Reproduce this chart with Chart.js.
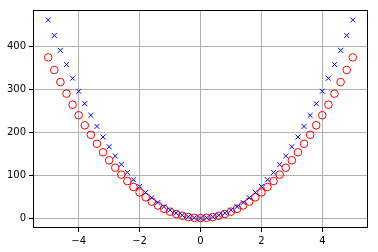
<!DOCTYPE html>
<html>
<head>
<meta charset="utf-8">
<script src="https://cdn.jsdelivr.net/npm/chart.js@4/dist/chart.umd.min.js"></script>
<style>
  html, body { margin: 0; padding: 0; background: #fff; }
</style>
</head>
<body>
<canvas id="chart" width="378" height="252"></canvas>
<script>
// x positions of the samples (-5 to 5, step 0.2)
const xValues = [-5, -4.8, -4.6, -4.4, -4.2, -4, -3.8, -3.6, -3.4, -3.2, -3, -2.8, -2.6, -2.4, -2.2, -2,
    -1.8, -1.6, -1.4, -1.2, -1, -0.8, -0.6, -0.4, -0.2, 0, 0.2, 0.4, 0.6, 0.8, 1, 1.2, 1.4, 1.6, 1.8, 2,
    2.2, 2.4, 2.6, 2.8, 3, 3.2, 3.4, 3.6, 3.8, 4, 4.2, 4.4, 4.6, 4.8, 5];

// red hollow circles
const circleValues = [375, 345.6, 317.4, 290.4, 264.6, 240, 216.6, 194.4, 173.4, 153.6, 135, 117.6, 101.4, 86.4, 72.6, 60,
    48.6, 38.4, 29.4, 21.6, 15, 9.6, 5.4, 2.4, 0.6, 0, 0.6, 2.4, 5.4, 9.6, 15, 21.6, 29.4, 38.4, 48.6, 60,
    72.6, 86.4, 101.4, 117.6, 135, 153.6, 173.4, 194.4, 216.6, 240, 264.6, 290.4, 317.4, 345.6, 375];

// blue x markers
const crossValues = [462.5, 426.2, 391.5, 358.2, 326.3, 296, 267.1, 239.8, 213.9, 189.4, 166.5, 145, 125.1, 106.6, 89.5, 74,
    59.9, 47.4, 36.3, 26.6, 18.5, 11.8, 6.7, 3, 0.7, 0, 0.7, 3, 6.7, 11.8, 18.5, 26.6, 36.3, 47.4, 59.9, 74,
    89.5, 106.6, 125.1, 145, 166.5, 189.4, 213.9, 239.8, 267.1, 296, 326.3, 358.2, 391.5, 426.2, 462.5];

const xTicks = [-4, -2, 0, 2, 4];
const yTicks = [0, 100, 200, 300, 400];

const toPoints = ys => xValues.map((x, i) => ({ x: x, y: ys[i] }));

// box round the plot area, like the matplotlib spines
const frame = {
    id: 'frame',
    afterDraw(chart) {
        const a = chart.chartArea;
        const ctx = chart.ctx;
        ctx.save();
        ctx.strokeStyle = '#000';
        ctx.lineWidth = 1;
        ctx.strokeRect(Math.round(a.left) + 0.5, Math.round(a.top) + 0.5,
            Math.round(a.right - a.left) - 1, Math.round(a.bottom - a.top) - 1);
        ctx.restore();
    }
};

const minusSign = v => String(v).replace('-', '\u2212');

new Chart(document.getElementById('chart').getContext('2d'), {
    type: 'scatter',
    data: {
        datasets: [
            {
                data: toPoints(crossValues),
                pointStyle: 'crossRot',
                pointRadius: 3.5,
                borderColor: 'blue',
                borderWidth: 1,
                showLine: false
            },
            {
                data: toPoints(circleValues),
                pointStyle: 'circle',
                pointRadius: 3.8,
                borderColor: 'red',
                backgroundColor: 'rgba(0,0,0,0)',
                borderWidth: 1,
                showLine: false
            }
        ]
    },
    options: {
        responsive: false,
        animation: false,
        events: [],
        layout: { padding: { top: 10, right: 10, left: 0, bottom: 0 } },
        plugins: { legend: { display: false }, tooltip: { enabled: false } },
        scales: {
            x: {
                type: 'linear',
                min: -5.5,
                max: 5.5,
                afterBuildTicks: s => { s.ticks = xTicks.map(v => ({ value: v })); },
                afterFit: s => { s.height = 24; },
                grid: { color: '#b0b0b0', tickColor: '#000', tickLength: 4, lineWidth: 1 },
                border: { display: false },
                ticks: {
                    color: '#000',
                    padding: 3,
                    maxRotation: 0,
                    font: { family: 'DejaVu Sans', size: 10 },
                    callback: v => minusSign(v)
                }
            },
            y: {
                type: 'linear',
                min: -23.1,
                max: 485.6,
                afterBuildTicks: s => { s.ticks = yTicks.map(v => ({ value: v })); },
                afterFit: s => { s.width = 33; },
                grid: { color: '#b0b0b0', tickColor: '#000', tickLength: 4, lineWidth: 1 },
                border: { display: false },
                ticks: {
                    color: '#000',
                    padding: 3,
                    font: { family: 'DejaVu Sans', size: 10 },
                    callback: v => minusSign(v)
                }
            }
        }
    },
    plugins: [frame]
});
</script>
</body>
</html>
